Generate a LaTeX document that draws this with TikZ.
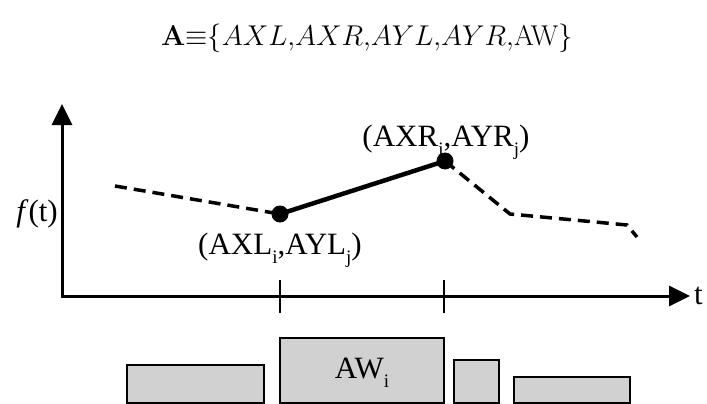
\RequirePackage{fix-cm}
\documentclass[tikz,border=0pt]{standalone}
\usepackage[no-math]{fontspec}
\setmainfont{Liberation Serif}
\usetikzlibrary{arrows.meta}
\newcommand{\lsub}[1]{\raisebox{-0.3em}{\fontsize{19}{19}\selectfont #1}}
\begin{document}
\begin{tikzpicture}[x=1pt,y=-1pt,
 axis/.style={line width=3pt, line join=miter, {Triangle[length=21pt,width=20pt]}-{Triangle[length=21pt,width=20pt]}},
 dashline/.style={line width=3.5pt, dash pattern=on 12pt off 7pt},
 solidline/.style={line width=4.5pt},
 dot/.style={circle, fill=black, inner sep=0pt, minimum size=17pt},
 lbl/.style={font=\fontsize{31}{35}\selectfont, inner sep=0pt},
 bar/.style={draw=black, line width=2.5pt, fill=black!18},
 tickmark/.style={line width=2pt}]
\useasboundingbox (0,0) rectangle (707,404);
% title
\node[anchor=base, inner sep=0pt, font=\fontsize{28.6}{33}\selectfont] (title) at (367,46)
  {$\mathbf{A}{\equiv}\{AXL{,}AXR{,}AYL{,}AYR{,}\mathrm{AW}\}$};
% axes
\coordinate (O) at (62,296);
\coordinate (Ytip) at (62,104);
\coordinate (Xtip) at (690,296);
\draw[axis] (Ytip) -- (O) -- (Xtip);
\node[lbl, anchor=base east] (ft) at (58,221) {\textit{f}(t)};
\node[lbl, anchor=base west] (t) at (694,304) {t};
% ticks
\coordinate (T1a) at (280,280); \coordinate (T1b) at (280,313);
\coordinate (T2a) at (444,280); \coordinate (T2b) at (444,313);
\draw[tickmark] (T1a) -- (T1b);
\draw[tickmark] (T2a) -- (T2b);
% curve
\coordinate (d0) at (115,186);
\coordinate (p1) at (280,214);
\coordinate (p2) at (445,161);
\coordinate (d1) at (510,214);
\coordinate (d2) at (627,225);
\coordinate (d3) at (637,237);
\draw[dashline] (d0) -- (p1);
\draw[solidline] (p1) -- (p2);
\draw[dashline] (p2) -- (d1) -- (d2) -- (d3);
\node[dot] (P1) at (p1) {};
\node[dot] (P2) at (p2) {};
\node[lbl, anchor=base] (L1) at (280,254) {(AXL\lsub{i},AYL\lsub{j})};
\node[lbl, anchor=base] (L2) at (446,146) {(AXR\lsub{i},AYR\lsub{j})};
% bars
\draw[bar] (127,365) rectangle (264,403);
\draw[bar] (280,338) rectangle (444,403);
\draw[bar] (454,360) rectangle (499,403);
\draw[bar] (514,377) rectangle (630,403);
\node[lbl] (AW) at (362,373) {AW\lsub{i}};
\end{tikzpicture}
\end{document}
